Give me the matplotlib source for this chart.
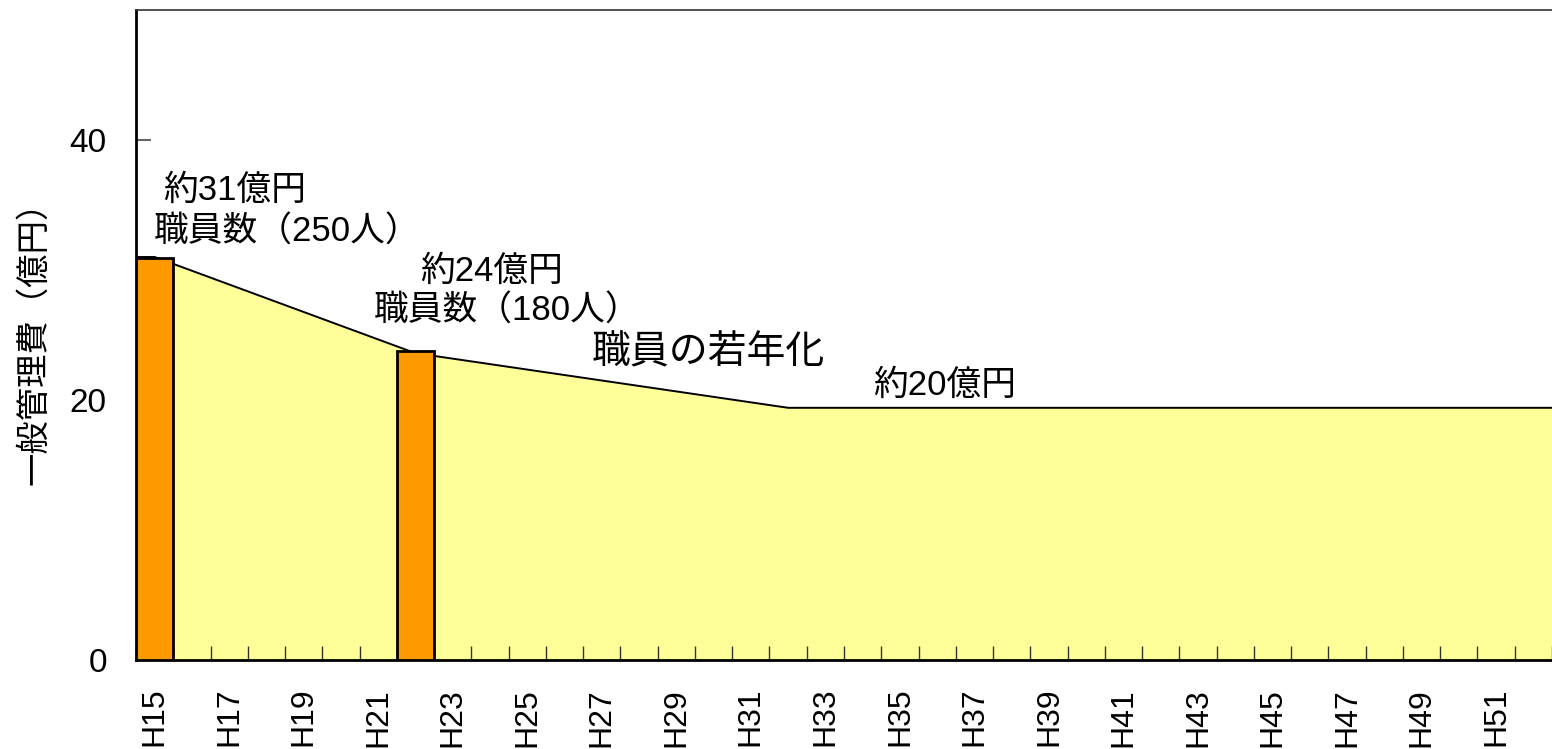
import numpy as np
import matplotlib
matplotlib.use('Agg')
import matplotlib.pyplot as plt

plt.rcParams['font.family'] = ['Liberation Sans', 'Noto Sans CJK JP', 'DejaVu Sans']

years = ['H{}'.format(y) for y in range(15, 53)]

# area series (general admin cost, 億円)
area_years = ['H15', 'H22', 'H32', 'H52']
area_values = [31.0, 23.6, 19.4, 19.4]

# bars
bar_years = ['H15', 'H22']
bar_values = [30.9, 23.8]

notes = [
    ('約31億円', 'H17', 36.1),
    ('職員数（250人）', 'H18', 32.9),
    ('約24億円', 'H24', 29.9),
    ('職員数（180人）', 'H24', 26.8),
    ('職員の若年化', 'H30', 23.6),
    ('約20億円', 'H36', 21.1),
]
note_dx = [0.16, 0.55, 0.03, 0.46, -0.14, 0.2]
note_size = [25, 25, 25, 25, 28, 25]

idx = {y: i for i, y in enumerate(years)}

fig = plt.figure(figsize=(15.52, 7.49), dpi=100)
ax = fig.add_axes([136 / 1552, 1 - 660 / 749, 1416 / 1552, 650 / 749])

xa = np.array([idx[y] for y in area_years], dtype=float)
ya = np.array(area_values)
# extend to the plot edges
xa = np.concatenate([[-0.5], xa, [len(years) - 0.5]])
ya = np.concatenate([[ya[0]], ya, [ya[-1]]])
ax.fill_between(xa, 0, ya, color='#FFFF99', lw=0, zorder=1)
ax.plot(xa, ya, color='black', lw=1.4, zorder=2)

xb = [idx[y] for y in bar_years]
ax.bar(xb, bar_values, width=1.0, color='#FF9900', edgecolor='black', lw=2, zorder=3)

for (txt, yr, yv), dx, fs in zip(notes, note_dx, note_size):
    ax.text(idx[yr] + dx, yv, txt, ha='center', va='center', fontsize=fs, zorder=4)

ax.set_xlim(-0.5, len(years) - 0.5)
ax.set_ylim(0, 50)

ax.set_xticks(range(0, len(years), 2))
ax.set_xticklabels(years[::2], rotation=90, fontsize=23)
ax.set_xticks(np.arange(-0.5, len(years), 1), minor=True)
ax.tick_params(axis='x', which='major', length=0, pad=20)
ax.tick_params(axis='x', which='minor', direction='in', length=10, width=1, color='#333333')

ax.set_yticks([0, 20, 40])
ax.tick_params(axis='y', direction='in', length=11, width=1.5, color='#666666', labelsize=24, pad=21)

ax.set_ylabel('一般管理費（億円）', fontsize=24, family=['Noto Sans CJK JP'])
ax.yaxis.set_label_coords(-0.06, 0.5)

ax.spines['right'].set_visible(False)
ax.spines['top'].set_color('#333333')
ax.spines['top'].set_linewidth(1.2)
ax.spines['left'].set_linewidth(2)
ax.spines['bottom'].set_linewidth(2)

plt.savefig('out.png', dpi=100)
